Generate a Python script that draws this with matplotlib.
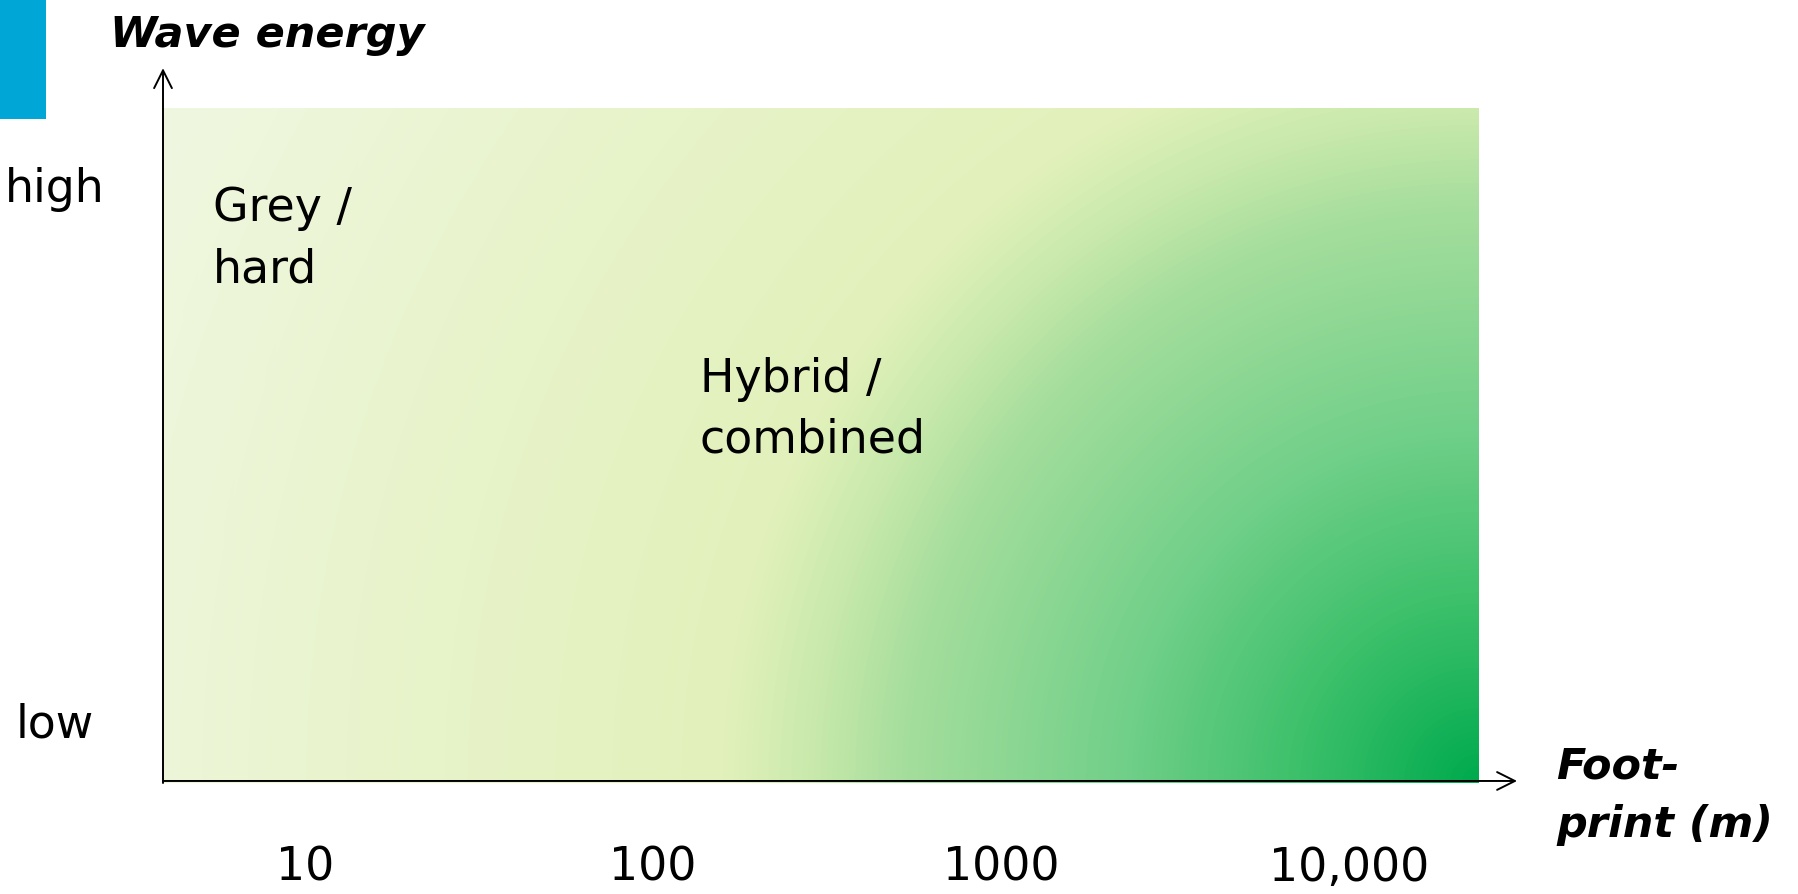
import numpy as np
import matplotlib
matplotlib.use("Agg")
import matplotlib.pyplot as plt
from matplotlib.colors import LinearSegmentedColormap
from matplotlib.patches import Rectangle

# footprint decades shown along the x axis
footprint_ticks = [10, 100, 1000, 10000]
footprint_labels = ["10", "100", "1000", "10,000"]
footprint_range = [3.91, 23440]

# wave energy levels on the y axis
energy_levels = [0.88, 0.086]
energy_labels = ["high", "low"]

# solution regions written inside the field
regions = ["Grey /\nhard", "Hybrid /\ncombined"]
region_pos = [(0.038, 0.884), (0.408, 0.631)]

# colour ramp from the bottom-right corner outwards (green -> pale)
ramp_stops = [0.0, 0.12, 0.235, 0.39, 0.45, 0.51, 0.70, 1.0]
ramp_colors = ["#00aa4e", "#3cc06a", "#6fcf88", "#a6de9d",
               "#c8e9ab", "#e2f1bb", "#e7f3c8", "#f0f7e1"]

plt.rcParams["font.family"] = ["DejaVu Sans"]
FS = 33

fig = plt.figure(figsize=(17.98, 8.94), dpi=100)
ax = fig.add_axes([163 / 1798, 111 / 894, 1315 / 1798, 675 / 894])

# radial fill centred on the bottom-right corner
W, H = 1315, 675
xx, yy = np.meshgrid(np.arange(W) + 0.5, np.arange(H) + 0.5)
dist = np.hypot(W - xx, H - yy) / np.hypot(W, H)
cmap = LinearSegmentedColormap.from_list("field", list(zip(ramp_stops, ramp_colors)))
ax.imshow(dist, cmap=cmap, vmin=0, vmax=1, extent=(0, 1, 0, 1),
          transform=ax.transAxes, aspect="auto", interpolation="bilinear",
          zorder=0)

ax.set_xscale("log")
ax.set_xlim(*footprint_range)
ax.set_ylim(0, 1)
for s in ax.spines.values():
    s.set_visible(False)

ax.set_xticks(footprint_ticks)
ax.set_xticklabels(footprint_labels, fontsize=FS)
ax.xaxis.set_minor_locator(matplotlib.ticker.NullLocator())
ax.tick_params(axis="x", length=0, pad=45)
ax.set_yticks([])

for lvl, lab in zip(energy_levels, energy_labels):
    ax.text(-0.082, lvl, lab, transform=ax.get_yaxis_transform(),
            ha="center", va="center", fontsize=FS)

for (px, py), lab in zip(region_pos, regions):
    ax.text(px, py, lab, transform=ax.transAxes, ha="left", va="top",
            fontsize=FS, linespacing=1.45)

# axis arrows
arrow = dict(arrowstyle="->,head_length=0.4,head_width=0.2", lw=1.4,
             color="black", mutation_scale=32, shrinkA=0, shrinkB=0)
ax.annotate("", xy=(0, 1.059), xytext=(0, 0), xycoords="axes fraction",
            textcoords="axes fraction", arrowprops=arrow, annotation_clip=False)
ax.annotate("", xy=(1.0297, 0.003), xytext=(0, 0.003), xycoords="axes fraction",
            textcoords="axes fraction", arrowprops=arrow, annotation_clip=False)

# axis titles
fig.text(110 / 1798, 1 - 47 / 894, "Wave energy", fontsize=31,
         fontweight="bold", fontstyle="italic", va="baseline", ha="left")
fig.text(1556 / 1798, 1 - 837 / 894, "Foot-\nprint (m)", fontsize=31,
         fontweight="bold", fontstyle="italic", va="baseline", ha="left",
         linespacing=1.5)

# corner accent
fig.add_artist(Rectangle((0, 1 - 119 / 894), 46 / 1798, 119 / 894,
                         transform=fig.transFigure, color="#00a6d6", lw=0))

fig.savefig("out.png", dpi=100)
